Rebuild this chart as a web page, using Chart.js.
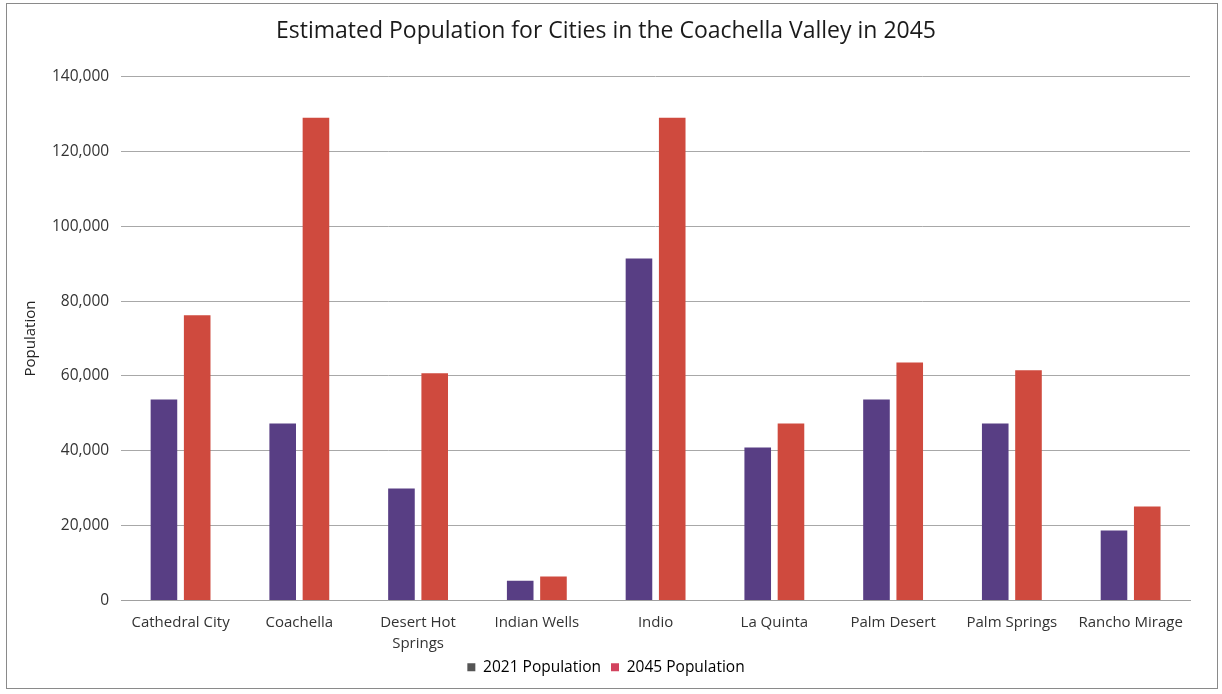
<!DOCTYPE html>
<html>
<head>
<meta charset="utf-8">
<script src="https://cdn.jsdelivr.net/npm/chart.js@4"></script>
<style>
  html, body { margin: 0; padding: 0; background: #fff; }
  #frame {
    position: absolute; left: 6px; top: 3px; width: 1212px; height: 686px;
    border: 1px solid #8a8a8a; box-sizing: border-box;
  }
  #chart { position: absolute; left: 0; top: 0; }
</style>
</head>
<body>
<div id="frame"></div>
<canvas id="chart" width="1222" height="694"></canvas>
<script>
// Dati
const cities = ["Cathedral City", "Coachella", ["Desert Hot", "Springs"], "Indian Wells", "Indio", "La Quinta", "Palm Desert", "Palm Springs", "Rancho Mirage"];
const pop2021 = [53700, 47300, 29900, 5300, 91400, 40900, 53700, 47300, 18700];
const pop2045 = [76200, 129000, 60700, 6400, 129000, 47300, 63600, 61500, 25100];
const yTicks = [0, 20000, 40000, 60000, 80000, 100000, 120000, 140000];

const font = "'Open Sans', Lato, sans-serif";

// L'asse x ha un'altezza ridotta: allarghiamo solo la zona di ritaglio delle etichette
const unclipLabels = {
  id: "unclipLabels",
  afterLayout(chart) { chart.scales.x.bottom += 24; }
};

new Chart(document.getElementById("chart"), {
  type: "bar",
  data: {
    labels: cities,
    datasets: [
      { label: "2021 Population", data: pop2021, backgroundColor: "#583e84", categoryPercentage: 0.56, barPercentage: 0.8 },
      { label: "2045 Population", data: pop2045, backgroundColor: "#cf4a3e", categoryPercentage: 0.56, barPercentage: 0.8 }
    ]
  },
  plugins: [unclipLabels],
  options: {
    responsive: false,
    animation: false,
    layout: { padding: { left: 22, right: 32, top: 12, bottom: 9 } },
    plugins: {
      title: {
        display: true,
        text: "Estimated Population for Cities in the Coachella Valley in 2045",
        color: "#1a1a1a",
        font: { family: font, size: 23, weight: "normal" },
        padding: { top: 6, bottom: 31 }
      },
      legend: {
        position: "bottom",
        labels: {
          boxWidth: 8, boxHeight: 8, color: "#333", padding: 10,
          font: { family: font, size: 15.5 },
          generateLabels: chart => chart.data.datasets.map((ds, i) => ({
            text: ds.label,
            fillStyle: i === 0 ? "#555555" : "#d2435e",
            strokeStyle: "transparent",
            lineWidth: 0,
            datasetIndex: i
          }))
        }
      },
      tooltip: { enabled: false }
    },
    scales: {
      x: {
        grid: { display: false },
        border: { color: "#a0a0a0" },
        ticks: { color: "#333", font: { family: font, size: 15, lineHeight: 1.4 }, maxRotation: 0, padding: 4 },
        // altezza fissa dell'asse x per allineare il grafico
        afterFit: scale => { scale.height = 49; }
      },
      y: {
        min: 0, max: 140000,
        afterBuildTicks: axis => { axis.ticks = yTicks.map(v => ({ value: v })); },
        grid: { color: "#a8a8a8", drawTicks: false },
        border: { display: false },
        ticks: {
          color: "#333", padding: 12,
          font: { family: font, size: 15.5 },
          callback: v => v.toLocaleString("en-US")
        },
        title: { display: true, text: "Population", color: "#222", font: { family: font, size: 15 }, padding: { top: 0, bottom: 0 } }
      }
    }
  }
});
</script>
</body>
</html>
